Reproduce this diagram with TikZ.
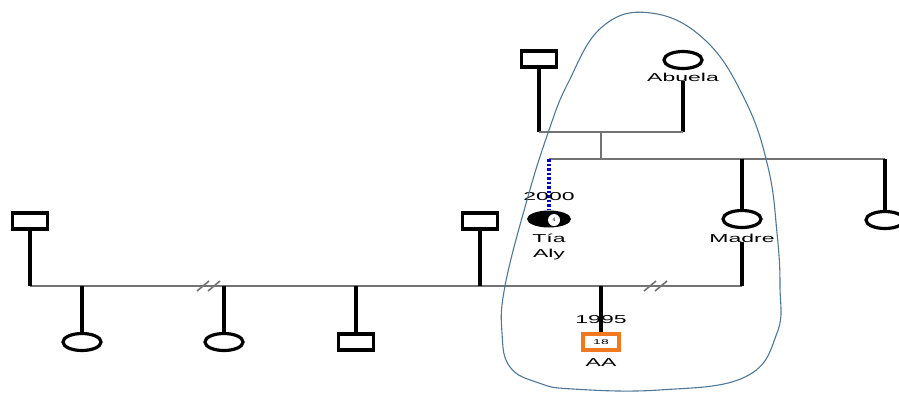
\documentclass[tikz,border=0pt]{standalone}
\usepackage{fontspec}
\setmainfont{Liberation Sans}
\usepackage{graphicx}
\usetikzlibrary{positioning,shapes.geometric,calc}
\definecolor{hullblue}{RGB}{80,120,150}
\definecolor{aaorange}{RGB}{240,120,30}
\newcommand{\wtxt}[1]{\scalebox{2.0}[1]{#1}}

\begin{document}
\begin{tikzpicture}[x=1pt, y=-1pt,
  font=\fontsize{11.5}{13}\selectfont,
  male/.style={rectangle, draw=black, line width=3.2pt, fill=white, minimum width=35pt, minimum height=16pt, inner sep=0pt},
  female/.style={ellipse, draw=black, line width=3.2pt, fill=white, minimum width=38pt, minimum height=17pt, inner sep=0pt},
  kid/.style={line width=3.6pt, black},
  bond/.style={line width=2.4pt, black!55},
  lbl/.style={inner sep=0pt, text=black},
  hull/.style={draw=hullblue, line width=1.1pt},
]
\useasboundingbox (0,0) rectangle (899,392);

% grandparents
\node[male] (gpa) at (539,59) {};
\node[female] (abuela) at (683,60) {};
\node[lbl] (abuelaLbl) at (683,77) {\wtxt{Abuela}};
\coordinate (m1L) at (539,132);
\coordinate (m1R) at (683,132);
\coordinate (m1C) at (601,132);
\coordinate (s1C) at (601,159);
\coordinate (s1L) at (549,159);
\coordinate (s1R) at (885,159);
\draw[kid] (gpa.south) -- (m1L);
\draw[kid] (abuelaLbl.south) -- (m1R);
\draw[bond] (m1L) -- (m1R);
\draw[bond] (m1C) -- (s1C);
\draw[bond] (s1L) -- (s1R);

% siblings: Tia, Madre, hermana
\node[ellipse, fill=black, minimum width=44pt, minimum height=17pt, inner sep=0pt] (tia) at (549,219) {};
\node[circle, fill=white, minimum size=12pt, inner sep=0pt, font=\fontsize{5}{5}\selectfont] (tiaIn) at (554,220) {4};
\draw[blue!80!black, line width=4pt, dash pattern=on 2.5pt off 2pt] (s1L) -- (tia.north);
\node[lbl] (tiaYear) at (549,197) {\wtxt{2000}};
\node[lbl] (tiaLbl) at (549,238) {\wtxt{Tía}};
\node[lbl] (alyLbl) at (549,255) {\wtxt{Aly}};

\node[female] (madre) at (742,219) {};
\node[lbl] (madreLbl) at (742,238) {\wtxt{Madre}};
\draw[kid] (madre.north |- s1L) -- (madre.north);

\node[female] (aunt2) at (885,220) {};
\draw[kid] (s1R) -- (aunt2.north);

% lower couple
\coordinate (m2L) at (30,286);
\coordinate (m2R) at (742,286);
\draw[bond] (m2L) -- (m2R);
\draw[kid] (madreLbl.south) -- (m2R);
\node[male] (pad1) at (30,221) {};
\draw[kid] (pad1.south) -- (m2L);
\node[male] (pad2) at (480,221) {};
\draw[kid] (pad2.south) -- (pad2.south |- m2L);

% breaks in the line
\coordinate (brk1) at (212,286);
\coordinate (brk2) at (659,286);
\foreach \b in {brk1,brk2} {
  \draw[black!55, line width=1.6pt] ($(\b)+(-15,5)$) -- ($(\b)+(-3,-5)$);
  \draw[black!55, line width=1.6pt] ($(\b)+(-4,5)$) -- ($(\b)+(8,-5)$);
}

% children
\node[female] (hija1) at (82,342) {};
\node[female] (hija2) at (224,342) {};
\node[male] (hijo3) at (356,342) {};
\foreach \c in {hija1,hija2,hijo3} {
  \draw[kid] (\c.north |- m2L) -- (\c.north);
}
\node[rectangle, draw=aaorange, line width=4pt, fill=white, minimum width=36pt, minimum height=16pt, inner sep=0pt, font=\fontsize{7}{7}\selectfont] (aa) at (601,342) {\wtxt{18}};
\draw[kid] (aa.north |- m2L) -- (aa.north);
\node[lbl] (aaYear) at (601,320) {\wtxt{1995}};
\node[lbl] (aaLbl) at (601,363) {\wtxt{AA}};

% circled group
\draw[hull] plot[smooth cycle, tension=0.7] coordinates {(651,13) (705,40) (745,100) (768,167) (777,233) (780,286) (777,333) (745,377) (659,390) (573,389) (539,383) (510,367) (502,333) (505,286) (527,200) (548,133) (568,83) (602,27)};
\end{tikzpicture}
\end{document}
